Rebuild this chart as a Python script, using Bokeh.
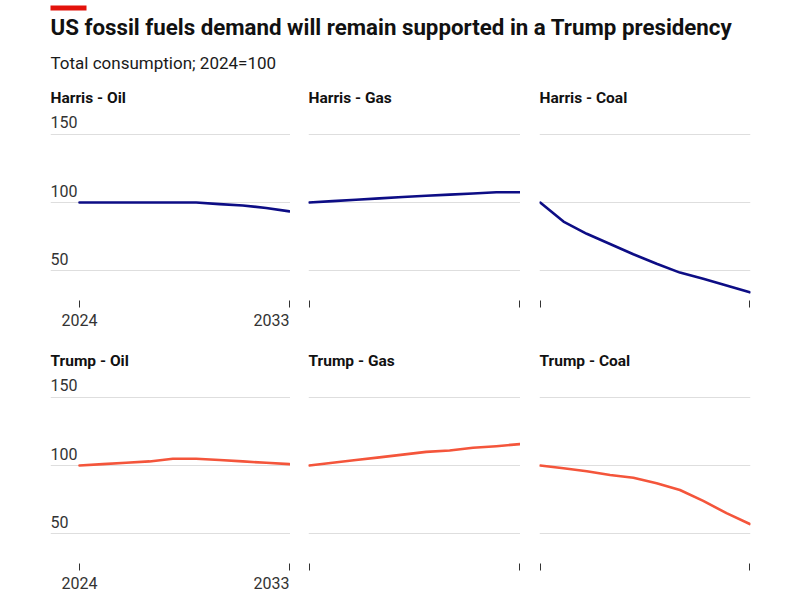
from bokeh.plotting import figure
from bokeh.layouts import column, row
from bokeh.models import (Range1d, FixedTicker, Label, BoxAnnotation, LinearAxis,
                          CustomJSTickFormatter)
from bokeh.core.properties import value
from bokeh.embed import file_html
from bokeh.resources import INLINE

# ---------------- data ----------------
years = [2024, 2025, 2026, 2027, 2028, 2029, 2030, 2031, 2032, 2033]
harris_oil = [100, 100, 100, 100, 100, 100, 98.8, 97.8, 96, 93.5]
harris_gas = [100, 101, 102, 103, 104, 105, 105.8, 106.6, 107.5, 107.5]
harris_coal = [100, 86, 77, 69.5, 62, 55, 48.5, 44, 39, 34]
trump_oil = [100, 101, 102, 103, 105, 105, 104, 103, 102, 101]
trump_gas = [100, 102, 104, 106, 108, 110, 111, 113, 114.2, 115.7]
trump_coal = [100, 98, 95.8, 93, 91, 87, 82, 74, 65, 57]

panel_titles = [["Harris - Oil", "Harris - Gas", "Harris - Coal"],
                ["Trump - Oil", "Trump - Gas", "Trump - Coal"]]
series = [[harris_oil, harris_gas, harris_coal],
          [trump_oil, trump_gas, trump_coal]]
row_colors = ["#0d0d85", "#f4553b"]

ytick_vals = [50, 100, 150]
ytick_labels = ["50", "100", "150"]
xtick_years = [2024, 2033]
xtick_labels = ["2024", "2033"]
xtick_align = ["center", "right"]

title_text = "US fossil fuels demand will remain supported in a Trump presidency"
subtitle_text = "Total consumption; 2024=100"

FONT = "Roboto"
DIGIT_W = 8.98          # approx. width of one digit, Roboto 16px
Y_MIN, Y_MAX = 28.0, 167.6
FRAME_H = 190

# ---------------- header ----------------
HW = 764
HH = 82
header = figure(width=HW, height=HH, x_range=Range1d(0, HW), y_range=Range1d(0, HH),
                output_backend="svg", toolbar_location=None,
                min_border=0, x_axis_location=None, y_axis_location=None)
header.xgrid.visible = False
header.ygrid.visible = False
header.outline_line_color = None
header.add_layout(BoxAnnotation(left=50, right=86, bottom=72, top=77,
                                fill_color="#e3120b", fill_alpha=1, line_color=None))
header.add_layout(Label(x=50, y=56, text=title_text, text_font=FONT,
                        text_font_size="22.3px", text_font_style="bold",
                        text_color="#111111", text_baseline="alphabetic"))
header.add_layout(Label(x=50, y=20, text=subtitle_text, text_font=FONT,
                        text_font_size="17px", text_color="#1a1a1a",
                        text_baseline="alphabetic"))

# ---------------- panels ----------------
col_specs = [
    dict(xr=(2022.757, 2033.043), frame_w=240, left=50, right=0),
    dict(xr=(2023.97, 2033.03), frame_w=212, left=18, right=0),
    dict(xr=(2023.97, 2033.03), frame_w=211, left=19, right=14),
]
row_bottoms = [45, 32]
TOP = 28

rows = []
for r in range(2):
    figs = []
    for c in range(3):
        spec = col_specs[c]
        h = TOP + FRAME_H + row_bottoms[r]
        w = spec["left"] + spec["frame_w"] + spec["right"]
        p = figure(width=w, height=h, x_range=Range1d(*spec["xr"]),
                   y_range=Range1d(Y_MIN, Y_MAX),
                   output_backend="svg", toolbar_location=None,
                   min_border_left=spec["left"], min_border_right=spec["right"],
                   min_border_top=TOP, min_border_bottom=row_bottoms[r],
                   title=panel_titles[r][c])
        p.title.text_font = FONT
        p.title.text_font_size = "15.5px"
        p.title.text_font_style = "bold"
        p.title.text_color = "#111111"
        p.title.align = "left"
        p.title.standoff = 8
        p.outline_line_color = None
        p.background_fill_color = "white"
        p.border_fill_color = "white"

        p.yaxis.visible = False
        p.xgrid.visible = False
        p.ygrid.ticker = FixedTicker(ticks=ytick_vals)
        p.ygrid.grid_line_color = "#dedede"
        p.ygrid.grid_line_width = 1

        # tick marks (no labels)
        p.xaxis.ticker = FixedTicker(ticks=xtick_years)
        p.xaxis.axis_line_color = None
        p.xaxis.major_tick_line_color = "#333333"
        p.xaxis.major_tick_line_width = 1
        p.xaxis.major_tick_out = 7
        p.xaxis.major_tick_in = 0
        p.xaxis.minor_tick_line_color = None
        p.xaxis.major_label_standoff = 0
        p.xaxis.major_label_overrides = {yr: "" for yr in xtick_years}

        p.line(years, series[r][c], line_color=row_colors[r], line_width=2.6,
               line_join="round", line_cap="round")

        if c == 0:
            p.text(x=[spec["xr"][0]] * len(ytick_vals), y=ytick_vals, text=ytick_labels,
                   text_font=value(FONT), text_font_size="16px", text_color="#333333",
                   text_align="left", text_baseline="middle", y_offset=-12)
            # tick labels on a second, tick-less axis: "2033" is right-aligned on its tick
            ppy = spec["frame_w"] / (spec["xr"][1] - spec["xr"][0])
            label_pos = []
            for yr, txt, al in zip(xtick_years, xtick_labels, xtick_align):
                shift = -(DIGIT_W * len(txt) / 2) / ppy if al == "right" else 0.0
                label_pos.append(round(yr + shift, 3))
            lab_axis = LinearAxis(ticker=FixedTicker(ticks=label_pos),
                                  formatter=CustomJSTickFormatter(
                                      args=dict(labels=xtick_labels), code="return labels[index]"),
                                  axis_line_color=None, major_tick_line_color=None,
                                  minor_tick_line_color=None, major_tick_out=0, major_tick_in=0,
                                  major_label_standoff=6, major_label_text_font=FONT,
                                  major_label_text_font_size="16px",
                                  major_label_text_color="#333333")
            p.add_layout(lab_axis, "below")
        figs.append(p)
    rows.append(row(*figs))

layout = column(header, rows[0], rows[1])
open("out.html", "w").write(file_html(layout, INLINE))
